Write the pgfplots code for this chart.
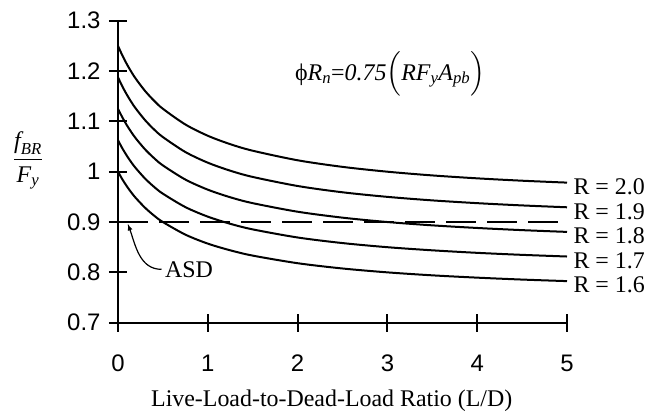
\documentclass[border=0pt]{standalone}
\usepackage{amsmath}
\usepackage{fontspec}
\setmainfont{Liberation Serif}
\setsansfont{Liberation Sans}
\usepackage{pgfplots}
\usepackage{pgfplotstable}
\pgfplotsset{compat=1.18}

% f_BR/F_y for each R
\pgfplotstableread{
x     r20    r19    r18    r17    r16
0     1.2500 1.1875 1.1250 1.0625 1.0000
0.05  1.2305 1.1689 1.1074 1.0459 0.9844
0.1   1.2132 1.1526 1.0919 1.0313 0.9706
0.15  1.1979 1.1380 1.0781 1.0182 0.9583
0.2   1.1842 1.1250 1.0658 1.0066 0.9474
0.3   1.1607 1.1027 1.0446 0.9866 0.9286
0.4   1.1413 1.0842 1.0272 0.9701 0.9130
0.5   1.1250 1.0688 1.0125 0.9563 0.9000
0.75  1.0938 1.0391 0.9844 0.9297 0.8750
1     1.0714 1.0179 0.9643 0.9107 0.8571
1.25  1.0547 1.0020 0.9492 0.8965 0.8438
1.5   1.0417 0.9896 0.9375 0.8854 0.8333
2     1.0227 0.9716 0.9205 0.8693 0.8182
2.5   1.0096 0.9591 0.9087 0.8582 0.8077
3     1.0000 0.9500 0.9000 0.8500 0.8000
3.5   0.9926 0.9430 0.8934 0.8438 0.7941
4     0.9868 0.9375 0.8882 0.8388 0.7895
4.5   0.9821 0.9330 0.8839 0.8348 0.7857
5     0.9783 0.9293 0.8804 0.8315 0.7826
}\curves

\begin{document}
\begin{tikzpicture}
\path[use as bounding box] (0,0) rectangle (654bp,415bp);
\begin{axis}[
  at={(118bp,92.3bp)}, anchor=south west,
  scale only axis, width=449bp, height=302bp,
  xmin=0, xmax=5, ymin=0.7, ymax=1.3,
  axis x line*=bottom, axis y line*=left,
  axis line style={-, line width=2bp},
  xtick={0,1,2,3,4,5}, xticklabels={0,1,2,3,4,5},
  ytick={0.7,0.8,0.9,1,1.1,1.2,1.3},
  yticklabels={0.7,0.8,0.9,1,1.1,1.2,1.3},
  tick align=center, major tick length=18bp,
  tick style={line width=2bp, black},
  ticklabel style={font=\sffamily\fontsize{24}{26}\selectfont},
  xticklabel style={yshift=-20bp},
  yticklabel style={xshift=-5bp},
  clip=false,
  curve/.style={black, line width=2bp, smooth, no markers},
]
\addplot[curve] table[x=x, y=r20] {\curves};
\addplot[curve] table[x=x, y=r19] {\curves};
\addplot[curve] table[x=x, y=r18] {\curves};
\addplot[curve] table[x=x, y=r17] {\curves};
\addplot[curve] table[x=x, y=r16] {\curves};
\addplot[black, no markers, line width=2bp, dash pattern=on 30bp off 11bp] coordinates {(0,0.9)(4.95,0.9)};

\begin{scope}[font=\fontsize{24}{26}\selectfont]
\node[anchor=west, xshift=3bp, yshift=-4bp] at (axis cs:5,0.9783) {R = 2.0};
\node[anchor=west, xshift=3bp, yshift=-4bp] at (axis cs:5,0.9293) {R = 1.9};
\node[anchor=west, xshift=3bp, yshift=-4bp] at (axis cs:5,0.8804) {R = 1.8};
\node[anchor=west, xshift=3bp, yshift=-4bp] at (axis cs:5,0.8315) {R = 1.7};
\node[anchor=west, xshift=3bp, yshift=-4bp] at (axis cs:5,0.7826) {R = 1.6};
\node (asd) at (axis cs:0.79,0.806) {ASD};
\node at (axis cs:3.03,1.194) {ϕ$\textit{R}_{\textit{n}}$=\textit{0.75}$\Bigl(\textit{RF}_{\textit{y}}\textit{A}_{\textit{pb}}\Bigr)$};
\node at (axis cs:2.38,0.7) [yshift=-78bp] {Live-Load-to-Dead-Load Ratio (L/D)};
\node at (axis cs:0,1.022) [xshift=-90bp] {$\dfrac{\textit{f}_{\textit{BR}}}{\textit{F}_{\textit{y}}}$};
\end{scope}
\draw[-latex, line width=1.2bp] (asd.west) to[out=180, in=-70] (axis cs:0.11,0.896);
\end{axis}
\end{tikzpicture}
\end{document}
